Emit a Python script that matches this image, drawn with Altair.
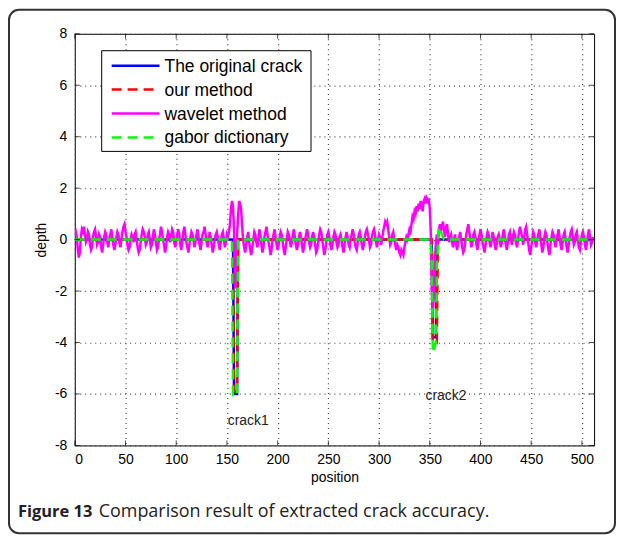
import altair as alt
import pandas as pd

SERIES = ["The original crack", "our method", "wavelet method", "gabor dictionary"]
COLORS = ["#0000ff", "#ff0000", "#ff00ff", "#00ff00"]
DASHES = [[1, 0], [10, 6], [1, 0], [10, 6]]

XTICKS = [0, 50, 100, 150, 200, 250, 300, 350, 400, 450, 500]
YTICKS = [-8, -6, -4, -2, 0, 2, 4, 6, 8]

orig_x = [0, 156, 157, 160, 161, 352, 353, 356, 357, 511]
orig_y = [0, 0, -6.0, -6.0, 0, 0, -3.8, -3.8, 0, 0]

our_x = [0, 156, 157, 160, 161, 352, 353, 357, 358, 511]
our_y = [0, 0, -5.9, -5.9, 0, 0, -4.0, -4.0, 0, 0]

gabor_x = [0, 155, 156, 159, 160, 161, 351, 352, 353, 356, 357, 359, 361, 364, 511]
gabor_y = [0, 0, -6.05, -6.05, -6.05, 0, 0, -1.0, -4.4, -4.0, -1.0, 0.5, 0.3, 0, 0]

wav_x = list(range(512))
wav_y = [
    0.2, 0.3, 0.1, -0.4, -0.7, -0.5, 0.1, 0.4, 0.3, 0.5, 0.2, -0.1, 0.0, 0.3, 0.2, -0.2, -0.4, -0.3, 0.1, 0.3,
    0.4, 0.1, -0.2, -0.1, 0.2, 0.1, -0.3, -0.5, -0.2, 0.1, 0.3, 0.2, -0.1, -0.3, 0.0, 0.2, 0.4, 0.1, -0.2, -0.4,
    -0.2, 0.1, 0.3, 0.2, -0.1, -0.3, 0.0, 0.3, 0.5, 0.6, 0.3, 0.1, -0.2, -0.4, -0.3, 0.0, 0.2, 0.1, -0.1, 0.2,
    0.3, 0.0, -0.3, -0.5, -0.4, -0.1, 0.2, 0.4, 0.3, 0.1, -0.2, -0.1, 0.2, 0.3, 0.0, -0.3, -0.2, 0.1, 0.4, 0.2,
    -0.1, -0.4, -0.3, 0.0, 0.2, 0.5, 0.3, 0.0, -0.2, -0.5, -0.3, 0.1, 0.3, 0.2, -0.1, 0.1, 0.4, 0.3, -0.1, -0.3,
    -0.1, 0.2, 0.4, 0.2, -0.2, -0.4, -0.1, 0.3, 0.5, 0.2, -0.1, -0.3, -0.5, -0.2, 0.1, 0.3, 0.2, 0.0, -0.3, -0.1,
    0.2, 0.4, 0.1, -0.2, -0.4, -0.1, 0.2, 0.3, 0.5, 0.2, -0.1, -0.3, 0.0, 0.3, 0.1, -0.2, -0.5, -0.3, 0.0, 0.2,
    0.3, 0.1, -0.2, -0.4, -0.1, 0.2, 0.3, 0.0, -0.3, -0.1, 0.2, 0.1, 0.3, 0.6, 1.2, 1.5, 1.3, 0.4, -1.9, -1.2,
    0.2, 0.9, 1.5, 1.4, 1.2, 0.5, 0.0, -0.3, -0.5, -0.2, 0.1, 0.3, -0.1, -0.4, -0.6, -0.3, 0.0, 0.3, 0.2, -0.1,
    -0.3, 0.0, 0.4, 0.2, -0.2, -0.5, -0.3, 0.1, 0.3, 0.5, 0.2, -0.1, -0.3, -0.6, -0.4, 0.0, 0.2, 0.4, 0.1, -0.2,
    -0.4, -0.2, 0.1, 0.3, 0.2, -0.1, -0.4, -0.6, -0.3, 0.0, 0.3, 0.2, 0.0, -0.3, -0.1, 0.2, 0.4, 0.1, -0.2, -0.4,
    -0.2, 0.1, 0.3, 0.1, -0.2, -0.5, -0.3, 0.0, 0.2, 0.4, 0.2, -0.1, -0.3, -0.2, 0.1, 0.3, 0.1, -0.2, -0.5, -0.4,
    -0.1, 0.2, 0.4, 0.3, 0.0, -0.3, -0.6, -0.4, -0.1, 0.2, 0.3, 0.1, -0.2, -0.4, -0.2, 0.1, 0.3, 0.2, -0.1, -0.3,
    -0.2, 0.1, 0.2, 0.0, -0.3, -0.5, -0.2, 0.1, 0.3, 0.1, -0.2, -0.3, 0.0, 0.2, 0.4, 0.2, -0.1, -0.3, -0.4, -0.1,
    0.2, 0.3, 0.1, -0.2, -0.4, -0.2, 0.1, 0.3, 0.4, 0.2, 0.0, -0.3, -0.2, 0.1, 0.3, 0.4, 0.2, -0.1, -0.3, 0.0,
    0.2, 0.1, -0.2, 0.0, 0.3, 0.5, 0.7, 0.6, 0.7, 0.4, 0.1, -0.2, -0.1, 0.2, 0.3, 0.0, -0.2, -0.4, -0.2, -0.3,
    -0.5, -0.6, -0.4, -0.5, -0.6, -0.3, -0.1, 0.1, 0.0, 0.2, 0.4, 0.3, 0.6, 0.9, 0.8, 1.1, 1.0, 1.3, 1.1, 1.4,
    1.2, 1.5, 1.3, 1.1, 1.5, 1.6, 1.4, 1.6, 1.5, 1.6, 1.2, 0.3, -2.0, -2.8, -2.2, -0.8, -0.2, 0.2, -0.3, 0.4,
    0.6, 0.3, 0.5, 0.7, 0.4, 0.1, 0.5, 0.6, 0.2, -0.1, 0.1, 0.2, -0.1, -0.3, 0.0, 0.2, -0.2, -0.4, -0.1, 0.1,
    0.3, 0.0, -0.3, -0.5, -0.4, -0.1, 0.2, 0.4, 0.6, 0.3, 0.0, -0.3, -0.1, 0.2, 0.3, 0.1, -0.2, -0.4, -0.1, 0.2,
    0.4, 0.2, -0.1, -0.3, -0.5, -0.2, 0.1, 0.3, 0.2, -0.1, -0.3, 0.0, 0.3, 0.1, -0.2, -0.4, -0.2, 0.1, 0.2, 0.0,
    -0.3, -0.1, 0.2, 0.4, 0.1, -0.2, -0.4, -0.1, 0.2, 0.3, 0.0, -0.2, 0.1, 0.3, 0.2, -0.1, -0.3, 0.0, 0.3, 0.5,
    0.3, 0.1, -0.2, 0.0, 0.4, 0.5, 0.2, -0.1, -0.4, -0.6, -0.3, 0.0, 0.3, 0.2, -0.1, -0.3, 0.0, 0.2, 0.4, 0.1,
    -0.2, -0.5, -0.3, 0.1, 0.3, 0.2, -0.1, -0.4, -0.6, -0.2, 0.1, 0.3, 0.2, -0.1, -0.3, 0.0, 0.2, 0.4, 0.1, -0.2,
    -0.4, -0.1, 0.2, 0.3, 0.0, -0.3, -0.5, -0.2, 0.1, 0.3, 0.4, 0.1, -0.2, -0.1, 0.2, 0.3, 0.0, -0.3, -0.4, -0.1,
    0.2, 0.3, 0.1, -0.2, -0.4, -0.1, 0.2, 0.4, 0.1, -0.2, -0.1, 0.1,
]

crack_labels = ["crack1", "crack2"]
crack_lx = [171, 366]
crack_ly = [-7.04, -6.07]

CAPTION_BOLD = "Figure 13"
CAPTION_REST = "Comparison result of extracted crack accuracy."

FONT = "Liberation Sans"

xscale = alt.Scale(domain=[0, 512], nice=False, zero=False)
yscale = alt.Scale(domain=[-8, 8], nice=False, zero=False)
xaxis = alt.Axis(values=XTICKS, title="position", labelPadding=7, titlePadding=4,
                 labelExpr="toString(datum.value)")
yaxis = alt.Axis(values=YTICKS, title="depth", labelPadding=8, titlePadding=6,
                 labelExpr="toString(datum.value)")

series_data = [(orig_x, orig_y), (our_x, our_y), (wav_x, wav_y), (gabor_x, gabor_y)]

layers = []
for i, (xs, ys) in enumerate(series_data):
    df = pd.DataFrame({"position": xs, "depth": ys})
    layers.append(
        alt.Chart(df).mark_line(strokeWidth=2.5, clip=True, color=COLORS[i],
                                strokeDash=DASHES[i]).encode(
            x=alt.X("position:Q", scale=xscale, axis=xaxis),
            y=alt.Y("depth:Q", scale=yscale, axis=yaxis),
        )
    )

# inward ticks on all four sides (MATLAB box style)
xt = pd.DataFrame({"position": XTICKS})
yt = pd.DataFrame({"depth": YTICKS})
tick_style = dict(color="black", thickness=1, size=5)
layers += [
    alt.Chart(xt).mark_tick(orient="vertical", yOffset=-2.5, **tick_style).encode(
        x=alt.X("position:Q", scale=xscale), y=alt.datum(-8)),
    alt.Chart(xt).mark_tick(orient="vertical", yOffset=2.5, **tick_style).encode(
        x=alt.X("position:Q", scale=xscale), y=alt.datum(8)),
    alt.Chart(yt).mark_tick(orient="horizontal", xOffset=2.5, **tick_style).encode(
        y=alt.Y("depth:Q", scale=yscale), x=alt.datum(0)),
    alt.Chart(yt).mark_tick(orient="horizontal", xOffset=-2.5, **tick_style).encode(
        y=alt.Y("depth:Q", scale=yscale), x=alt.datum(512)),
]

labels_df = pd.DataFrame({"position": crack_lx, "depth": crack_ly, "label": crack_labels})
layers.append(
    alt.Chart(labels_df).mark_text(font=FONT, fontSize=14, color="#222").encode(
        x=alt.X("position:Q", scale=xscale), y=alt.Y("depth:Q", scale=yscale), text="label:N")
)

one = pd.DataFrame({"k": [0]})

# legend box (manual, MATLAB style)
layers.append(
    alt.Chart(one).mark_rect(fill="white", stroke="black", strokeWidth=1).encode(
        x=alt.value(27), x2=alt.value(237), y=alt.value(17), y2=alt.value(118))
)
for i, name in enumerate(SERIES):
    ypix = 32 + 24 * i
    layers.append(
        alt.Chart(one).mark_rule(strokeWidth=2.5, color=COLORS[i], strokeDash=DASHES[i]).encode(
            x=alt.value(37), x2=alt.value(85), y=alt.value(ypix))
    )
    layers.append(
        alt.Chart(one).mark_text(font=FONT, fontSize=17.5, color="black", align="left",
                                 baseline="middle").encode(
            x=alt.value(90), y=alt.value(ypix + 1), text=alt.value(name))
    )

# figure frame and caption
layers += [
    alt.Chart(one).mark_rect(fillOpacity=0, stroke="#333", strokeWidth=2, cornerRadius=10).encode(
        x=alt.value(-66), x2=alt.value(542), y=alt.value(-24), y2=alt.value(501)),
    alt.Chart(one).mark_text(font="Open Sans", fontSize=16.5, fontWeight="bold", color="#222",
                             align="left", baseline="alphabetic").encode(
        x=alt.value(-57), y=alt.value(485), text=alt.value(CAPTION_BOLD)),
    alt.Chart(one).mark_text(font="Open Sans", fontSize=18, color="#222",
                             align="left", baseline="alphabetic").encode(
        x=alt.value(24), y=alt.value(485), text=alt.value(CAPTION_REST)),
]

chart = alt.layer(*layers).properties(
    width=521, height=413,
    autosize=alt.AutoSizeParams(type="none"),
    padding={"left": 67, "top": 25, "right": 22, "bottom": 90},
).configure_view(stroke="black", strokeWidth=1).configure_axis(
    domain=False, ticks=False, grid=True, gridColor="#444", gridDash=[1, 4], gridWidth=1.2,
    labelFont=FONT, labelFontSize=14, labelColor="black",
    titleFont=FONT, titleFontSize=14, titleFontWeight="normal", titleColor="black",
)

chart.save("out.html", embed_options={"renderer": "svg", "actions": False})
